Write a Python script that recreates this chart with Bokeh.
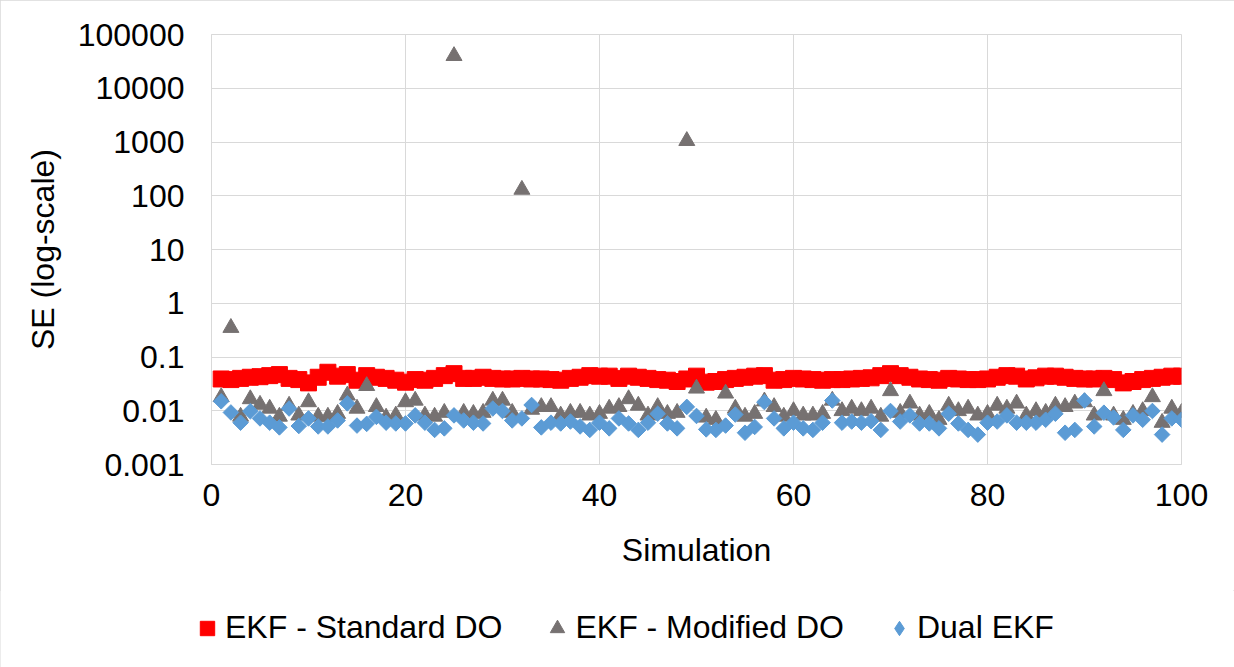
from bokeh.plotting import figure
from bokeh.layouts import column
from bokeh.models import (FixedTicker, CustomJSTickFormatter, Legend, LegendItem,
                          Range1d)
from bokeh.embed import file_html
from bokeh.resources import INLINE
import math

# ---- data -------------------------------------------------------------
simulation = list(range(1, 101))

se_standard_do = [
    0.039, 0.038, 0.040, 0.042, 0.043, 0.045, 0.047, 0.040, 0.038, 0.033,
    0.042, 0.052, 0.044, 0.047, 0.037, 0.045, 0.042, 0.040, 0.037, 0.034,
    0.038, 0.037, 0.040, 0.045, 0.049, 0.040, 0.040, 0.042, 0.040, 0.039,
    0.039, 0.040, 0.039, 0.039, 0.038, 0.037, 0.040, 0.042, 0.045, 0.044,
    0.044, 0.040, 0.044, 0.042, 0.040, 0.038, 0.037, 0.035, 0.039, 0.044,
    0.034, 0.035, 0.038, 0.040, 0.042, 0.044, 0.045, 0.037, 0.038, 0.040,
    0.039, 0.038, 0.037, 0.038, 0.038, 0.039, 0.040, 0.041, 0.045, 0.049,
    0.045, 0.042, 0.039, 0.038, 0.037, 0.040, 0.039, 0.038, 0.038, 0.039,
    0.042, 0.045, 0.044, 0.039, 0.041, 0.044, 0.044, 0.042, 0.040, 0.039,
    0.039, 0.040, 0.038, 0.033, 0.035, 0.038, 0.040, 0.042, 0.044, 0.044,
]

se_modified_do = [
    0.018, 0.35, 0.0078, 0.0165, 0.013, 0.011, 0.0078, 0.0125, 0.0082, 0.0145,
    0.0078, 0.0078, 0.0088, 0.0193, 0.011, 0.029, 0.0118, 0.0075, 0.0082, 0.0145,
    0.0155, 0.0082, 0.0078, 0.0092, 40000, 0.0092, 0.0088, 0.0092, 0.0155, 0.0155,
    0.0092, 130, 0.0105, 0.0118, 0.0118, 0.0082, 0.0092, 0.0092, 0.0082, 0.0088,
    0.011, 0.0118, 0.0165, 0.0125, 0.0082, 0.0118, 0.0088, 0.0092, 1050, 0.026,
    0.0075, 0.0068, 0.021, 0.011, 0.0078, 0.0088, 0.015, 0.0118, 0.0078, 0.0099,
    0.0082, 0.0082, 0.0088, 0.0155, 0.0099, 0.011, 0.0099, 0.011, 0.0078, 0.0233,
    0.0092, 0.0137, 0.0082, 0.0088, 0.0068, 0.0125, 0.0099, 0.011, 0.0082, 0.0088,
    0.0125, 0.011, 0.0137, 0.0082, 0.0099, 0.0092, 0.0125, 0.0118, 0.0137, 0.0145,
    0.0082, 0.0233, 0.0082, 0.0068, 0.0088, 0.0099, 0.018, 0.006, 0.011, 0.0092,
]

se_dual_ekf = [
    0.015, 0.0093, 0.006, 0.0098, 0.0072, 0.006, 0.0049, 0.011, 0.0052, 0.0072,
    0.0051, 0.0051, 0.0066, 0.0137, 0.0053, 0.0057, 0.0077, 0.006, 0.0058, 0.0058,
    0.0082, 0.006, 0.0044, 0.0047, 0.0082, 0.0066, 0.006, 0.0058, 0.011, 0.0099,
    0.0066, 0.0072, 0.0128, 0.0049, 0.006, 0.0058, 0.0063, 0.0051, 0.0044, 0.006,
    0.0047, 0.0072, 0.0058, 0.0044, 0.006, 0.0088, 0.0058, 0.0047, 0.0118, 0.008,
    0.0045, 0.0044, 0.0053, 0.0085, 0.0039, 0.005, 0.0145, 0.0072, 0.0047, 0.006,
    0.0047, 0.0044, 0.006, 0.0155, 0.006, 0.0063, 0.006, 0.0064, 0.0044, 0.0099,
    0.0063, 0.0082, 0.0058, 0.0058, 0.0047, 0.0088, 0.0058, 0.0044, 0.0036, 0.006,
    0.0063, 0.0082, 0.006, 0.006, 0.006, 0.0068, 0.0088, 0.0039, 0.0044, 0.0155,
    0.0051, 0.0092, 0.0075, 0.0044, 0.0082, 0.0068, 0.0099, 0.0036, 0.0072, 0.0068,
]

series_labels = ["EKF - Standard DO", "EKF - Modified DO", "Dual EKF"]
x_ticks = [0, 20, 40, 60, 80, 100]
y_ticks = [0.001, 0.01, 0.1, 1, 10, 100, 1000, 10000, 100000]

# ---- styling ------------------------------------------------------------
FONT = "Liberation Sans"
FONT_SIZE = "32px"
GRID = "#D9D9D9"
RED = "#FF0000"
GRAY = "#767171"
BLUE = "#5B9BD5"

# markers in the plot area
MARKERS = [
    dict(marker="square", size=16, angle=0.0, color=RED),
    dict(marker="triangle", size=16, angle=0.0, color=GRAY),
    dict(marker="square", size=11, angle=math.pi / 4, color=BLUE),
]
# keys in the legend strip (the key glyph is drawn unrotated, so use a diamond)
KEY_MARKERS = [
    dict(marker="square", color=RED),
    dict(marker="triangle", color=GRAY),
    dict(marker="diamond", color=BLUE),
]

W = 1234
H_MAIN = 590
H_LEG = 77

p = figure(
    width=W, height=H_MAIN,
    y_axis_type="log",
    x_range=Range1d(0, 100),
    y_range=Range1d(0.001, 100000),
    output_backend="svg",
    toolbar_location=None,
    min_border_left=211, min_border_right=53,
    min_border_top=34, min_border_bottom=H_MAIN - 464,
    background_fill_color="white",
    border_fill_color="white",
    outline_line_color=GRID,
)
p.frame_align = False

series = [se_standard_do, se_modified_do, se_dual_ekf]
for ys, m in zip(series, MARKERS):
    p.scatter(simulation, ys, marker=m["marker"], size=m["size"], angle=m["angle"],
              fill_color=m["color"], line_color=m["color"])

# axes
p.xaxis.ticker = FixedTicker(ticks=x_ticks)
p.yaxis.ticker = FixedTicker(ticks=y_ticks)
p.yaxis.formatter = CustomJSTickFormatter(code="return String(tick);")

for ax in (p.xaxis[0], p.yaxis[0]):
    ax.axis_line_color = GRID
    ax.major_tick_line_color = None
    ax.minor_tick_line_color = None
    ax.major_label_text_font = FONT
    ax.major_label_text_font_size = FONT_SIZE
    ax.major_label_text_color = "#000000"
    ax.axis_label_text_font = FONT
    ax.axis_label_text_font_size = FONT_SIZE
    ax.axis_label_text_font_style = "normal"
    ax.axis_label_text_color = "#000000"

p.xaxis.axis_label = "Simulation"
p.yaxis.axis_label = "SE (log-scale)"
p.xaxis.major_label_standoff = 13
p.xaxis.axis_label_standoff = 23
p.yaxis.major_label_standoff = 21
p.yaxis.axis_label_standoff = 14

p.xgrid.grid_line_color = GRID
p.ygrid.grid_line_color = GRID

# ---- legend strip under the chart ---------------------------------------
leg = figure(
    width=W, height=H_LEG,
    x_range=Range1d(0, 1), y_range=Range1d(0, 1),
    x_axis_location=None, y_axis_location=None,
    output_backend="svg", toolbar_location=None,
    min_border=0, outline_line_color=None,
    background_fill_color="white", border_fill_color="white",
)
leg.frame_align = False
leg.grid.visible = False

items = []
for label, m in zip(series_labels, KEY_MARKERS):
    # one sample point kept outside the strip's visible range, used for the key glyph
    r = leg.scatter([-5], [-5], marker=m["marker"], size=14,
                    fill_color=m["color"], line_color=m["color"])
    items.append(LegendItem(label=label, renderers=[r]))

legend = Legend(
    items=items,
    orientation="horizontal",
    location=(189, 21),
    label_text_font=FONT,
    label_text_font_size=FONT_SIZE,
    label_text_color="#000000",
    glyph_width=36, glyph_height=36,
    label_standoff=0,
    spacing=37,
    padding=0,
    margin=0,
    border_line_color=None,
    background_fill_color=None,
)
leg.add_layout(legend, "center")

layout = column(p, leg, spacing=0)
layout.styles = {"outline": "1px solid #D9D9D9", "outline-offset": "-1px"}

open("out.html", "w").write(file_html(layout, INLINE))
